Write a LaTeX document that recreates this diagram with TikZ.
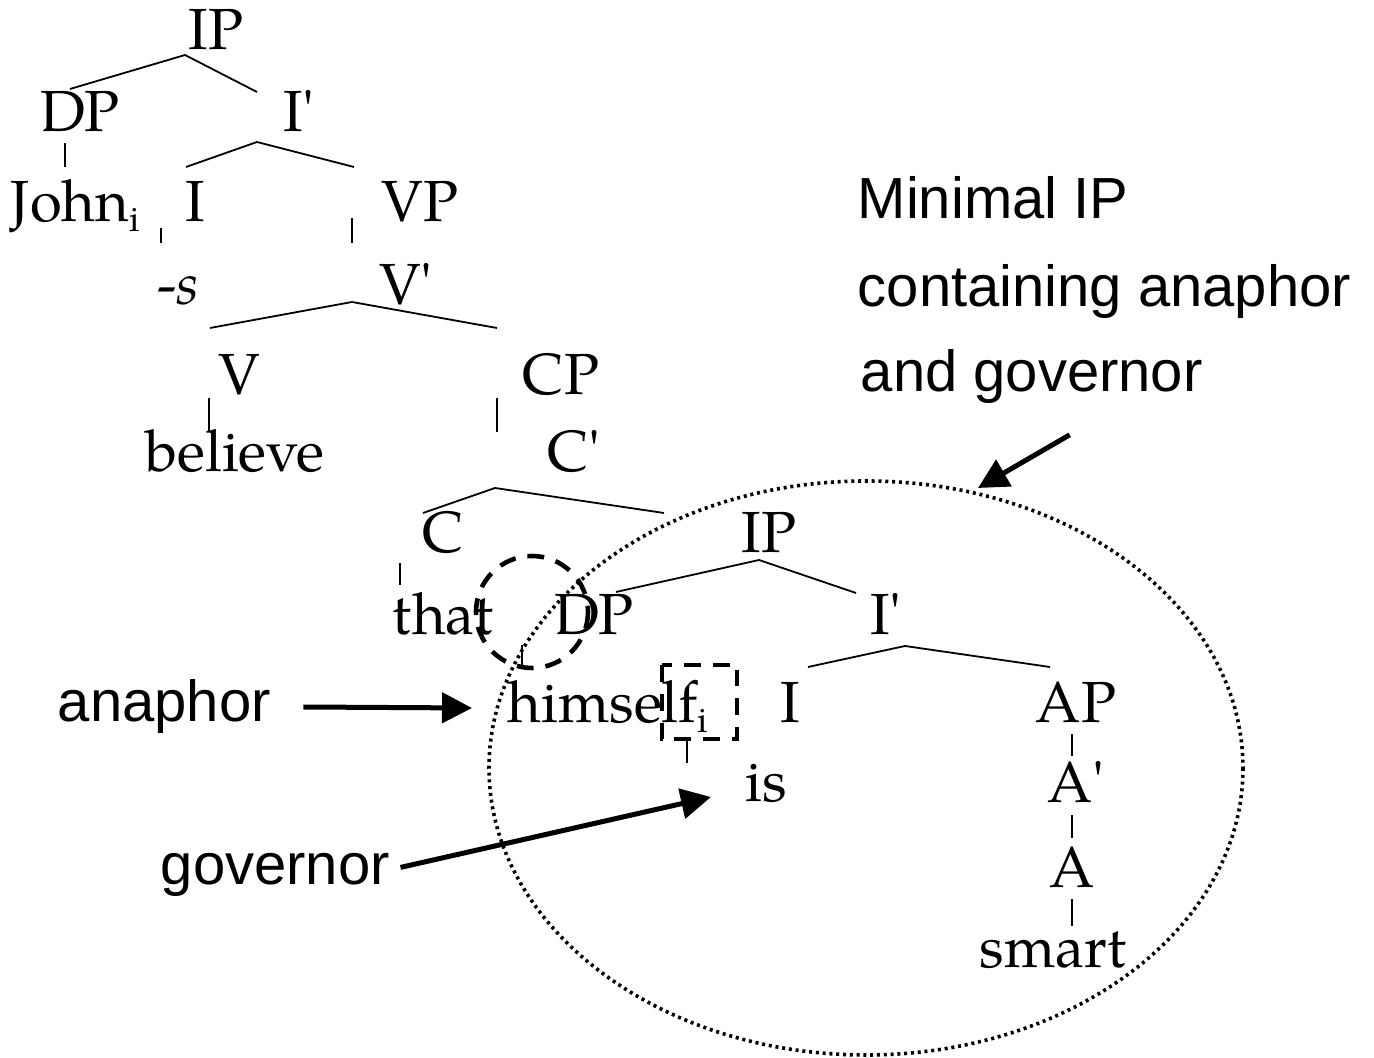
\documentclass[tikz,border=0pt]{standalone}
\usepackage{fontspec}
\setmainfont{TeX Gyre Pagella}
\newfontfamily\arialfont{Liberation Sans}
\usetikzlibrary{arrows.meta,calc}
\tikzset{>={Triangle[length=7.5pt,width=7.5pt]}}
\tikzset{
  cat/.style={anchor=base,inner sep=0pt,font=\fontsize{14.5}{17}\selectfont},
  note/.style={anchor=base west,inner sep=0pt,font=\arialfont\fontsize{14.5}{17}\selectfont},
  branch/.style={line width=0.45pt},
  pointer/.style={->,line width=1.25pt},
  zone/.style={line width=0.9pt,dash pattern=on 0.75pt off 0.95pt},
  dashmark/.style={line width=1.15pt,dash pattern=on 4.2pt off 3pt}
}
\newcommand{\pr}{\textquotesingle}
\newcommand{\idx}{\raisebox{-2.4pt}{\fontsize{9}{9}\selectfont i}}

\begin{document}
\begin{tikzpicture}[x=0.25pt,y=-0.25pt]
    \useasboundingbox (0,0) rectangle (1374,1058);
    \node[cat] (ipa) at (216,50) {IP};
    \node[cat] (dpa) at (80,132) {DP};
    \node[cat] (iba) at (299,132) {I\pr};
    \node[cat,anchor=base west] (john) at (10,222) {John\idx};
    \node[cat] (ia) at (195,222) {I};
    \node[cat] (vp) at (420,222) {VP};
    \node[cat] (suf) at (178,305) {-\textit{s}};
    \node[cat] (vb) at (406,305) {V\pr};
    \node[cat] (v) at (239,395) {V};
    \node[cat] (cp) at (561,395) {CP};
    \node[cat] (believe) at (235,472) {believe};
    \node[cat] (cb) at (574,472) {C\pr};
    \node[cat] (c) at (443,553) {C};
    \node[cat] (ipb) at (769,553) {IP};
    \node[cat] (that) at (443,635) {that};
    \node[cat] (dpb) at (594,635) {DP};
    \node[cat] (ibb) at (886,635) {I\pr};
    \node[cat,anchor=base west] (himself) at (507,723) {himself\idx};
    \node[cat] (ib) at (790,723) {I};
    \node[cat] (ap) at (1076,723) {AP};
    \node[cat] (is) at (766,802) {is};
    \node[cat] (ab) at (1076,803) {A\pr};
    \node[cat] (a) at (1072,888) {A};
    \node[cat] (smart) at (1053,968) {smart};

    \draw[branch] (70,89) -- (185,55) -- (257,92);
    \draw[branch] (65,143) -- (65,167);
    \draw[branch] (186,167) -- (257,142) -- (354,167);
    \draw[branch] (161,228) -- (161,243);
    \draw[branch] (352,218) -- (352,243);
    \draw[branch] (210,328) -- (352,302) -- (497,328);
    \draw[branch] (209,398) -- (209,432);
    \draw[branch] (497,398) -- (497,432);
    \draw[branch] (423,513) -- (495,488) -- (664,513);
    \draw[branch] (400,563) -- (400,585);
    \draw[branch] (616,592) -- (759,560) -- (856,593);
    \draw[branch] (522,645) -- (522,667);
    \draw[branch] (808,667) -- (905,646) -- (1050,667);
    \draw[branch] (687,740) -- (687,763);
    \draw[branch] (1072,734) -- (1072,756);
    \draw[branch] (1072,815) -- (1072,838);
    \draw[branch] (1072,899) -- (1072,926);

    \draw[zone] (866,768) ellipse [x radius=377,y radius=287];
    \draw[dashmark] (532,612) circle [radius=56];
    \draw[dashmark] (662,665) rectangle (737,739);

    \node[note] (minimal) at (857,219) {Minimal IP};
    \node[note] (containing) at (857,307) {containing anaphor};
    \node[note] (andgov) at (860,392) {and governor};
    \node[note] (anaphor) at (57,722) {anaphor};
    \node[note] (governor) at (160,885) {governor};

    \coordinate (zonetip) at (978,488);
    \coordinate (anatip) at (472,708);
    \coordinate (govtip) at (711,797);
    \draw[pointer] ($(andgov.south)+(38,30)$) -- (zonetip);
    \draw[pointer] ([xshift=8pt]anaphor.east) -- (anatip);
    \draw[pointer] ($(governor.east)+(10,-8)$) -- (govtip);
\end{tikzpicture}
\end{document}
